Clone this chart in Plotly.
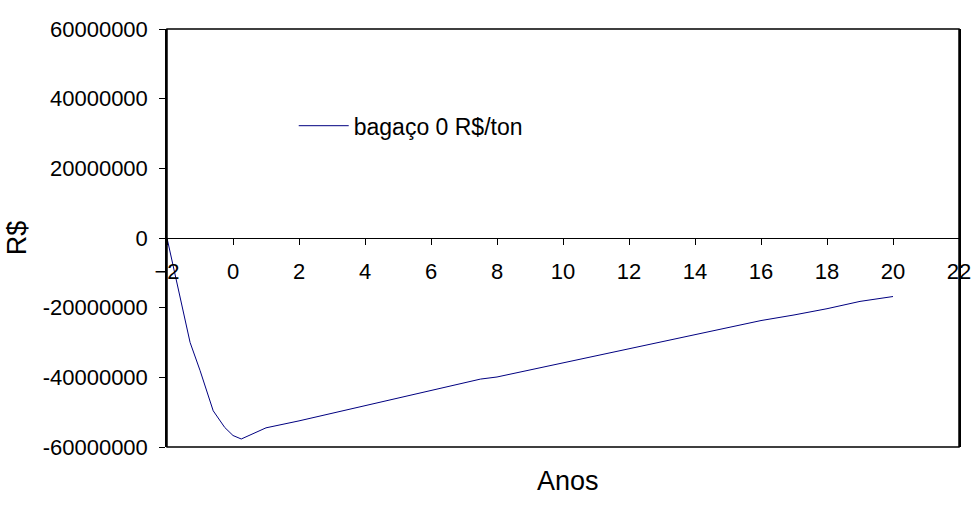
import plotly.graph_objects as go

# Accumulated cash flow of the project (R$) by year, construction period from year -2
anos = [-2.0, -1.5, -1.3, -1.0, -0.6, -0.25, 0.0, 0.25, 1.0, 2.0, 3.0, 4.0, 5.0, 6.0,
        7.0, 7.5, 8.0, 9.0, 10.0, 11.0, 12.0, 13.0, 14.0, 15.0, 16.0, 17.0, 17.5,
        18.0, 19.0, 20.0]
fluxo = [0, -21.4e6, -30.0e6, -38.0e6, -49.6e6, -54.4e6, -56.7e6, -57.7e6, -54.5e6,
         -52.5e6, -50.3e6, -48.1e6, -45.9e6, -43.7e6, -41.6e6, -40.5e6, -39.9e6,
         -37.9e6, -35.8e6, -33.7e6, -31.7e6, -29.9e6, -27.9e6, -25.7e6, -23.7e6,
         -22.1e6, -21.3e6, -20.3e6, -18.2e6, -16.8e6]
serie = "bagaço 0 R$/ton"

x_ticks = list(range(-2, 23, 2))
y_ticks = [-60000000, -40000000, -20000000, 0, 20000000, 40000000, 60000000]
y_labels = [str(v) for v in y_ticks]

FONT = "Liberation Sans, Arial, sans-serif"

fig = go.Figure()
fig.add_trace(go.Scatter(
    x=anos, y=fluxo, mode="lines", name=serie,
    line=dict(color="#000080", width=1),
))

fig.update_layout(
    template="none",
    width=972, height=509,
    margin=dict(l=167, r=13, t=29, b=62, autoexpand=False),
    paper_bgcolor="white", plot_bgcolor="white",
    font=dict(family=FONT, size=22, color="black"),
    showlegend=True,
    legend=dict(
        x=0.160, y=0.82, xanchor="left", yanchor="top",
        bgcolor="rgba(0,0,0,0)", borderwidth=0,
        font=dict(family=FONT, size=23, color="black"),
        itemwidth=50,
    ),
    xaxis=dict(
        range=[-2, 22], tickvals=x_ticks, automargin=False,
        anchor="free", position=0.5,
        showgrid=False, zeroline=False,
        showline=True, linecolor="black", linewidth=1,
        ticks="outside", ticklen=6, tickcolor="black",
        ticklabelstandoff=8,
        tickfont=dict(family=FONT, size=22),
    ),
    yaxis=dict(
        range=[-60000000, 60000000], tickvals=y_ticks, ticktext=y_labels,
        automargin=False,
        showgrid=False, zeroline=False,
        showline=True, linecolor="black", linewidth=1.5, mirror=True,
        ticks="outside", ticklen=6, tickcolor="black",
        ticklabelstandoff=7,
        tickfont=dict(family=FONT, size=22),
        title=dict(text="R$", font=dict(family=FONT, size=27), standoff=8),
    ),
    shapes=[dict(type="rect", xref="paper", yref="paper", x0=0, x1=1, y0=0, y1=1,
                 line=dict(color="black", width=1.5), fillcolor="rgba(0,0,0,0)")],
    annotations=[dict(text="Anos", xref="paper", yref="paper", x=0.506, y=-0.04,
                      xanchor="center", yanchor="top", showarrow=False,
                      font=dict(family=FONT, size=27))],
)

fig.write_html("out.html")
